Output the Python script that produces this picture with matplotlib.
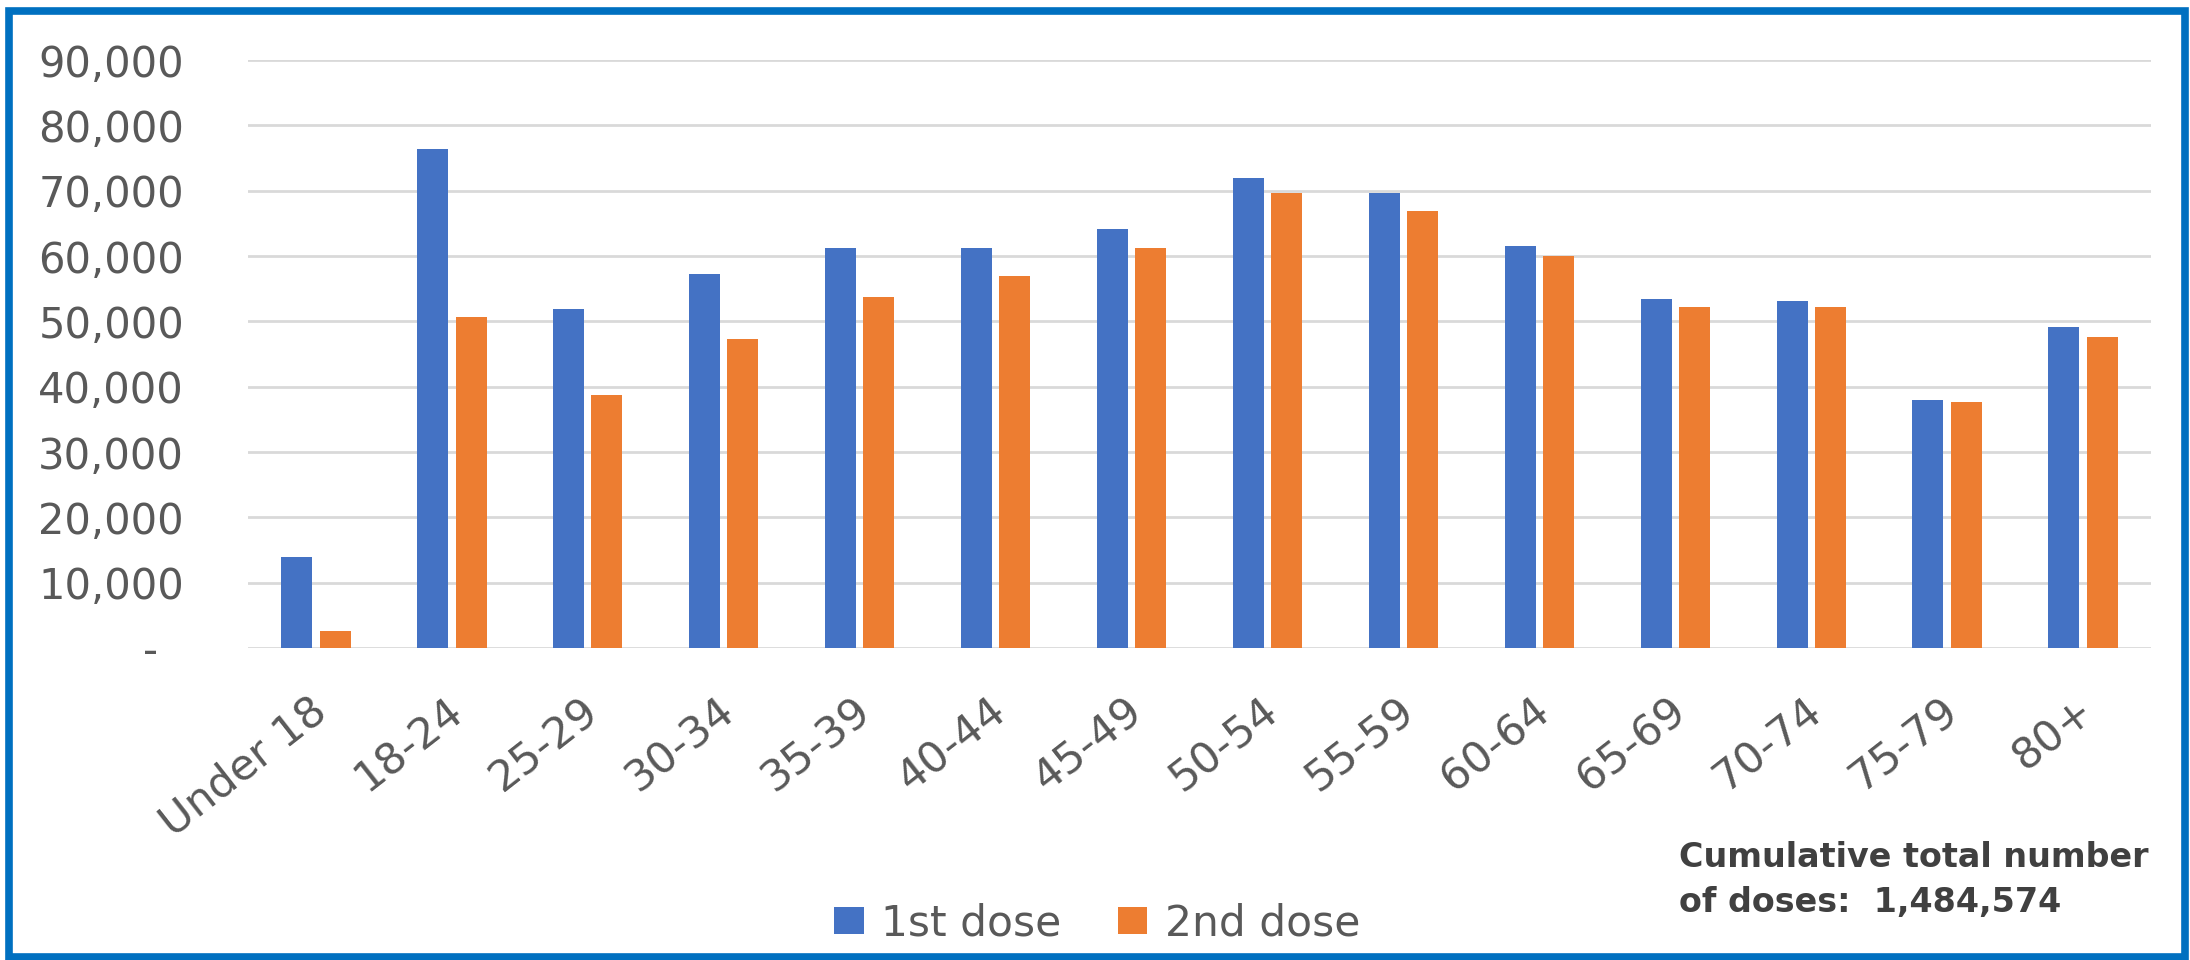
import numpy as np
import matplotlib.pyplot as plt
from matplotlib.patches import Rectangle
from matplotlib.ticker import FuncFormatter
import matplotlib.transforms as mtransforms

# Dane
grupy = ["Under 18", "18-24", "25-29", "30-34", "35-39", "40-44", "45-49",
         "50-54", "55-59", "60-64", "65-69", "70-74", "75-79", "80+"]
dawka1 = [13900, 76400, 51900, 57300, 61200, 61200, 64200,
          71900, 69600, 61500, 53400, 53100, 38000, 49100]
dawka2 = [2600, 50700, 38800, 47300, 53800, 56900, 61200,
          69600, 66900, 60000, 52200, 52200, 37700, 47600]
podpis1 = "Cumulative total number"
podpis2 = "of doses:  1,484,574"

niebieski = "#4472C4"
pomaranczowy = "#ED7D31"
szary = "#595959"

plt.rcParams['font.family'] = ['DejaVu Sans']

W, H = 2190, 960
fig = plt.figure(figsize=(W / 100, H / 100), dpi=100)
fig.patch.set_facecolor("white")

ax = fig.add_axes([248 / W, 1 - 648 / H, (2151 - 248) / W, (648 - 60) / H])

x = np.arange(len(grupy))
szer = 0.228
ax.bar(x - 0.141, dawka1, szer, color=niebieski, label="1st dose", zorder=3)
ax.bar(x + 0.141, dawka2, szer, color=pomaranczowy, label="2nd dose", zorder=3)

ax.set_xlim(-0.5, len(grupy) - 0.5)
ax.set_ylim(0, 90000)
ax.set_yticks(np.arange(0, 90001, 10000))
ax.yaxis.set_major_formatter(FuncFormatter(lambda v, _: "-  " if v == 0 else f"{int(v):,}"))
ax.grid(axis="y", color="#d9d9d9", linewidth=2.0, zorder=0)
ax.set_axisbelow(True)
for s in ax.spines.values():
    s.set_visible(False)

ax.tick_params(axis="y", length=0, pad=46, labelsize=30, labelcolor=szary)
ax.tick_params(axis="x", length=0, pad=42, labelsize=31, labelcolor=szary)
ax.set_xticks(x)
ax.set_xticklabels(grupy, rotation=38, ha="right", va="center", rotation_mode="anchor")
przes = mtransforms.ScaledTranslation(6 / 100, 0, fig.dpi_scale_trans)
for lab in ax.get_xticklabels():
    lab.set_transform(lab.get_transform() + przes)

fig.legend(loc="center", bbox_to_anchor=(0.501, 0.038), ncol=2, frameon=False,
           fontsize=30.5, handlelength=0.7, handleheight=0.59, handletextpad=0.42,
           columnspacing=1.32, labelcolor=szary, borderpad=0)

fig.text(1679 / W, 1 - 867 / H, podpis1, ha="left", va="baseline", fontsize=24,
         fontweight="bold", color="#404040")
fig.text(1679 / W, 1 - 912 / H, podpis2, ha="left", va="baseline", fontsize=24,
         fontweight="bold", color="#404040")

# Ramka
fig.patches.append(Rectangle((9 / W, 3 / H), (2185 - 9) / W, (949 - 3) / H,
                             transform=fig.transFigure, fill=False,
                             edgecolor="#0070C0", linewidth=5.5))

fig.savefig("out.png", dpi=100)
